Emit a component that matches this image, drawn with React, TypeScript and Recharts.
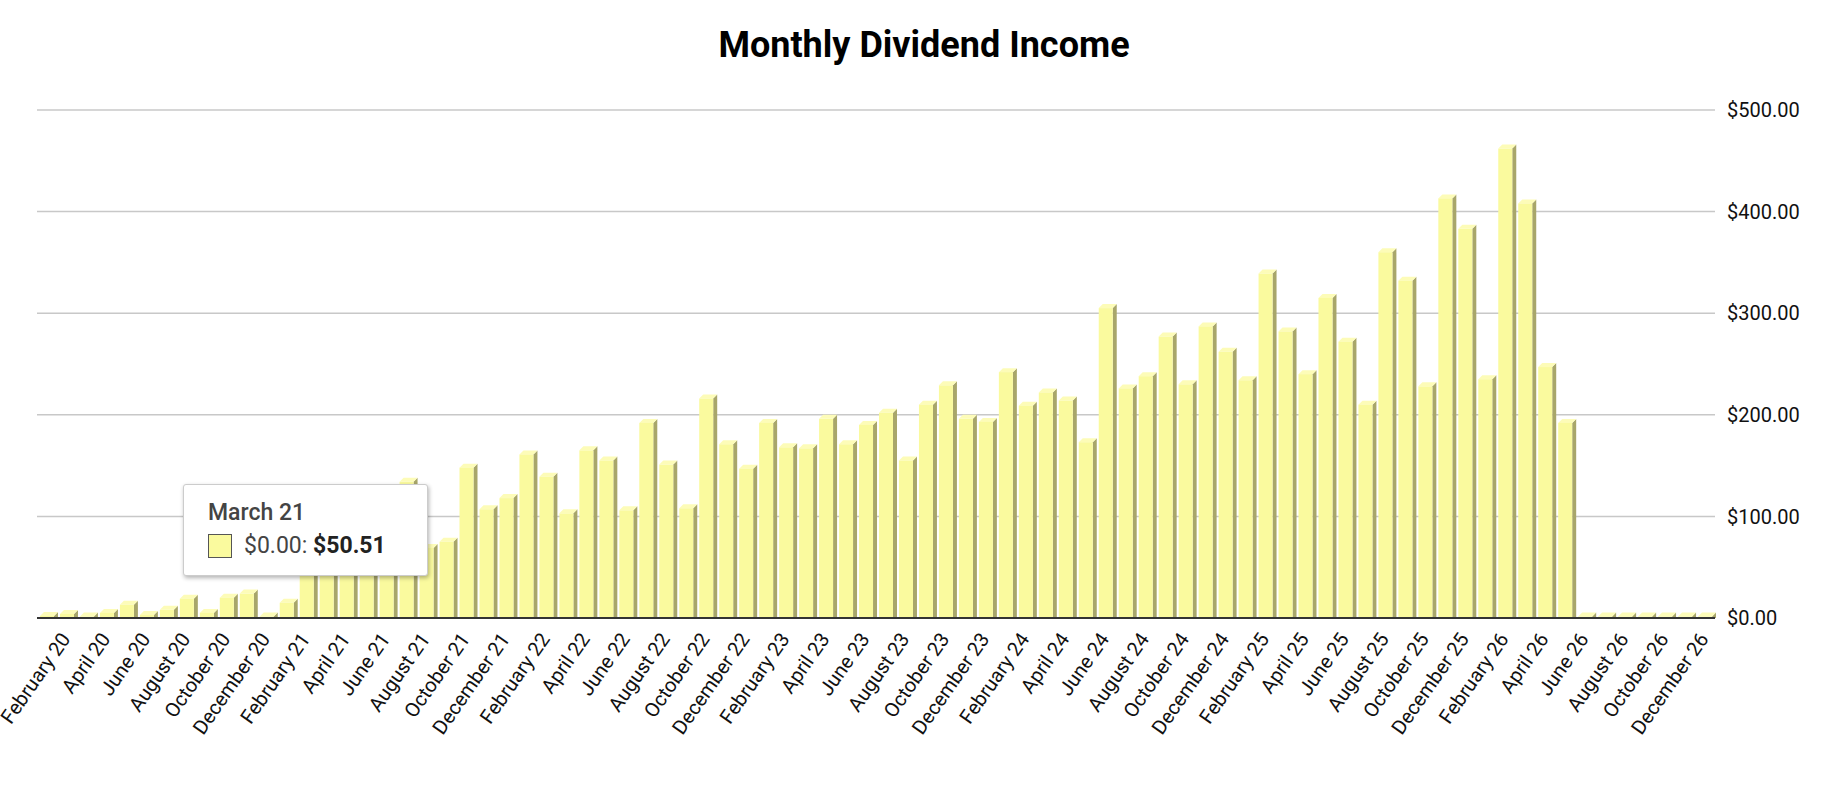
import React from 'react';
import { BarChart, Bar, XAxis, YAxis, CartesianGrid } from 'recharts';

const monthNames = ['January','February','March','April','May','June','July','August','September','October','November','December'];
const years = ['20','21','22','23','24','25','26'];
const categories: string[] = years.flatMap((y) => monthNames.map((m) => `${m} ${y}`));
const values: number[] = [
  2, 4, 0.5, 5, 13, 3, 8, 19, 5, 20, 24, 0.5,
  15, 48, 50.51, 52, 55, 58, 134, 69, 75, 148, 107, 118,
  161, 139, 103, 165, 155, 106, 192, 151, 108, 216, 171, 147,
  192, 168, 167, 196, 171, 190, 202, 155, 210, 229, 196, 193,
  242, 209, 222, 214, 173, 305, 226, 238, 277, 230, 287, 262,
  234, 339, 282, 240, 315, 272, 210, 360, 332, 228, 413, 383,
  235, 462, 408, 247, 192, 1.5, 1.5, 1.5, 1.5, 1.5, 1.5, 1.5,
];
const tickLabels: string[] = categories.filter((_, i) => i % 2 === 1);
const yTicks: number[] = [0, 100, 200, 300, 400, 500];

const data = categories.map((c, i) => ({ month: c, value: values[i] }));

const D = 4;
const Bar3D = (props: any) => {
  const { x, y, width, height } = props;
  if (width == null || height == null) return null;
  const h = Math.max(height, 1.5);
  const yy = y + height - h;
  return (
    <g>
      <polygon points={`${x + width},${yy} ${x + width + D},${yy - D} ${x + width + D},${yy + h} ${x + width},${yy + h}`} fill="#a8a66a" />
      <polygon points={`${x},${yy} ${x + D},${yy - D} ${x + width + D},${yy - D} ${x + width},${yy}`} fill="#fdfcb8" />
      <rect x={x} y={yy} width={width} height={h} fill="#fafa9e" />
    </g>
  );
};

const XTick = (props: any) => {
  const { x, y, payload } = props;
  return (
    <text x={x} y={y + 10} transform={`rotate(-55 ${x} ${y + 10})`} textAnchor="end" dominantBaseline="middle" fontSize={20} fill="#111" fontFamily="Roboto">
      {payload.value}
    </text>
  );
};

export default function App() {
  return (
    <div style={{ position: 'absolute', left: 0, top: 0, width: 1848, height: 792, background: '#fff', fontFamily: 'Roboto' }}>
      <div style={{ position: 'absolute', top: 24, left: 0, width: 1848, textAlign: 'center', fontSize: 36, fontWeight: 'bold', color: '#000' }}>
        Monthly Dividend Income
      </div>
      <BarChart width={1848} height={788} data={data} margin={{ top: 110, right: 10, left: 37, bottom: 0 }} barSize={14}>
        <CartesianGrid vertical={false} stroke="#c8c8c8" strokeWidth={1.5} />
        <XAxis dataKey="month" ticks={tickLabels} interval={0} tick={<XTick />} tickLine={false} axisLine={{ stroke: '#333', strokeWidth: 2 }} height={170} />
        <YAxis orientation="right" domain={[0, 500]} ticks={yTicks} tickFormatter={(v: number) => `$${v.toFixed(2)}`} axisLine={false} tickLine={false} width={123} tick={{ fontSize: 20, fill: '#111', textAnchor: 'start', dx: 4 }} />
        <Bar dataKey="value" shape={<Bar3D />} isAnimationActive={false} />
      </BarChart>
      <div style={{ position: 'absolute', left: 183, top: 484, width: 245, height: 92, background: '#fff', border: '1px solid #ccc', borderRadius: 3, boxShadow: '1px 2px 4px rgba(0,0,0,0.3)', padding: '14px 24px', boxSizing: 'border-box', color: '#444' }}>
        <div style={{ fontSize: 23, fontWeight: 500 }}>March 21</div>
        <div style={{ display: 'flex', alignItems: 'center', marginTop: 6, fontSize: 23 }}>
          <span style={{ display: 'inline-block', width: 22, height: 22, background: '#fafa9e', border: '1px solid #555', marginRight: 12 }} />
          <span>$0.00: <b style={{ color: '#222' }}>$50.51</b></span>
        </div>
      </div>
    </div>
  );
}
